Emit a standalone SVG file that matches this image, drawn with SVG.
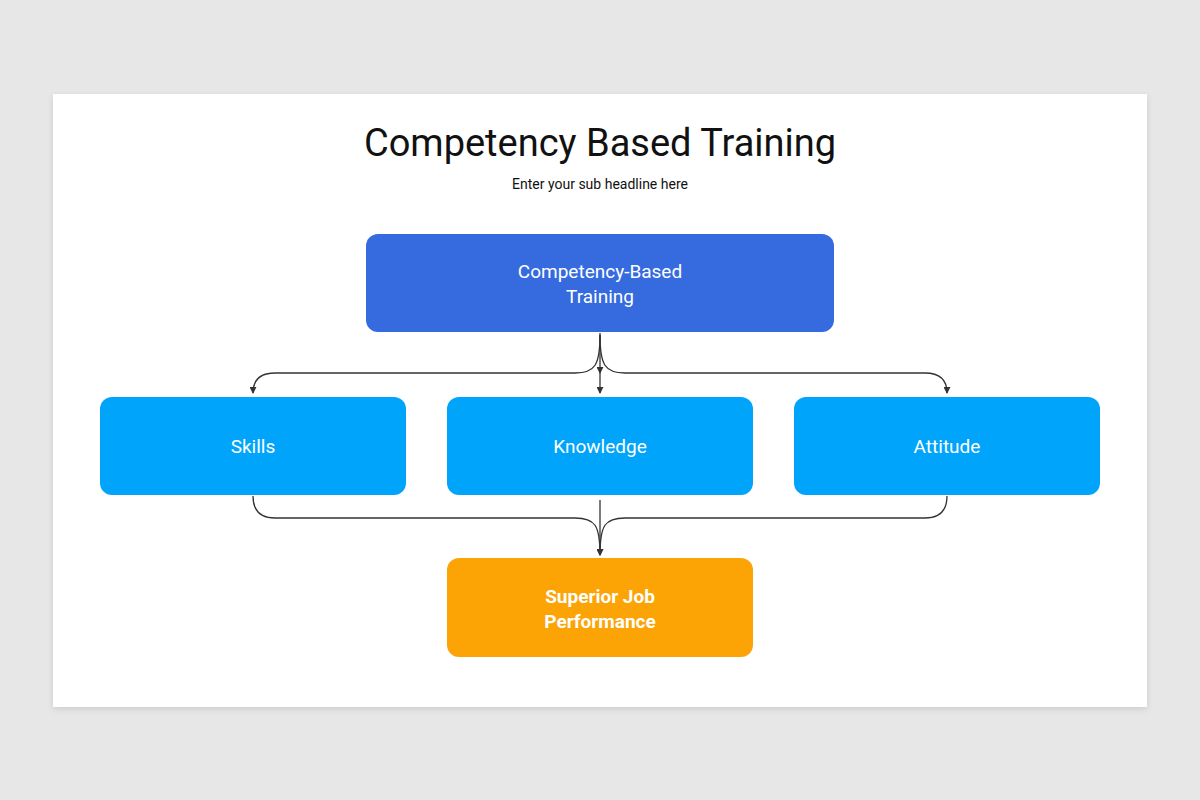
<svg xmlns="http://www.w3.org/2000/svg" width="1200" height="800" viewBox="0 0 1200 800">
<defs>
<marker id="ah" markerWidth="8" markerHeight="8" refX="4" refY="6" orient="auto" markerUnits="userSpaceOnUse"><path d="M0,0 L4,7 L8,0 L4,2 Z" fill="#333" transform="rotate(-90 4 4) translate(0,0)"/></marker>
<marker id="a2" viewBox="0 0 8 8" markerWidth="7" markerHeight="7" refX="7" refY="4" orient="auto" markerUnits="userSpaceOnUse"><path d="M0,0 L8,4 L0,8 Z" fill="#333"/></marker>
<filter id="sh" x="-5%" y="-5%" width="110%" height="110%"><feDropShadow dx="0" dy="2" stdDeviation="3" flood-opacity="0.12"/></filter>
</defs>
<style>
text{font-family:Roboto,"Liberation Sans",sans-serif;text-anchor:middle;fill:#fff}
.c{fill:none;stroke:#333;stroke-width:1.3}
</style>
<rect width="1200" height="800" fill="#e8e7e8"/>
<rect x="53" y="94" width="1094" height="613" fill="#fff" filter="url(#sh)"/>
<text x="600" y="156" font-size="38" style="fill:#111">Competency Based Training</text>
<text x="600" y="189" font-size="14" style="fill:#111">Enter your sub headline here</text>
<g id="connectors">
<path class="c" d="M600,333 V373" marker-end="url(#a2)" transform="translate(0,0)"/>
<path class="c" d="M600,373 V393" marker-end="url(#a2)"/>
<path class="c" d="M600,335 C600,365 595,373 575,373 H275 C260,373 253,380 253,393" marker-end="url(#a2)"/>
<path class="c" d="M600,335 C600,365 605,373 625,373 H925 C940,373 947,380 947,393" marker-end="url(#a2)"/>
<path class="c" d="M253,496 C253,510 260,518 275,518 H575 C595,518 600,525 600,555" marker-end="url(#a2)"/>
<path class="c" d="M947,496 C947,510 940,518 925,518 H625 C605,518 600,525 600,555"/>
<path class="c" d="M600,500 V555" marker-end="url(#a2)"/>
</g>
<g id="top"><rect x="366" y="234" width="468" height="98" rx="12" fill="#356bdf"/><text x="600" y="278" font-size="19">Competency-Based</text><text x="600" y="303" font-size="19">Training</text></g>
<g id="skills"><rect x="100" y="397" width="306" height="98" rx="12" fill="#00a5fb"/><text x="253" y="453" font-size="19">Skills</text></g>
<g id="knowledge"><rect x="447" y="397" width="306" height="98" rx="12" fill="#00a5fb"/><text x="600" y="453" font-size="19">Knowledge</text></g>
<g id="attitude"><rect x="794" y="397" width="306" height="98" rx="12" fill="#00a5fb"/><text x="947" y="453" font-size="19">Attitude</text></g>
<g id="superior"><rect x="447" y="558" width="306" height="99" rx="12" fill="#fca405"/><text x="600" y="603" font-size="19" font-weight="bold">Superior Job</text><text x="600" y="628" font-size="19" font-weight="bold">Performance</text></g>
</svg>
